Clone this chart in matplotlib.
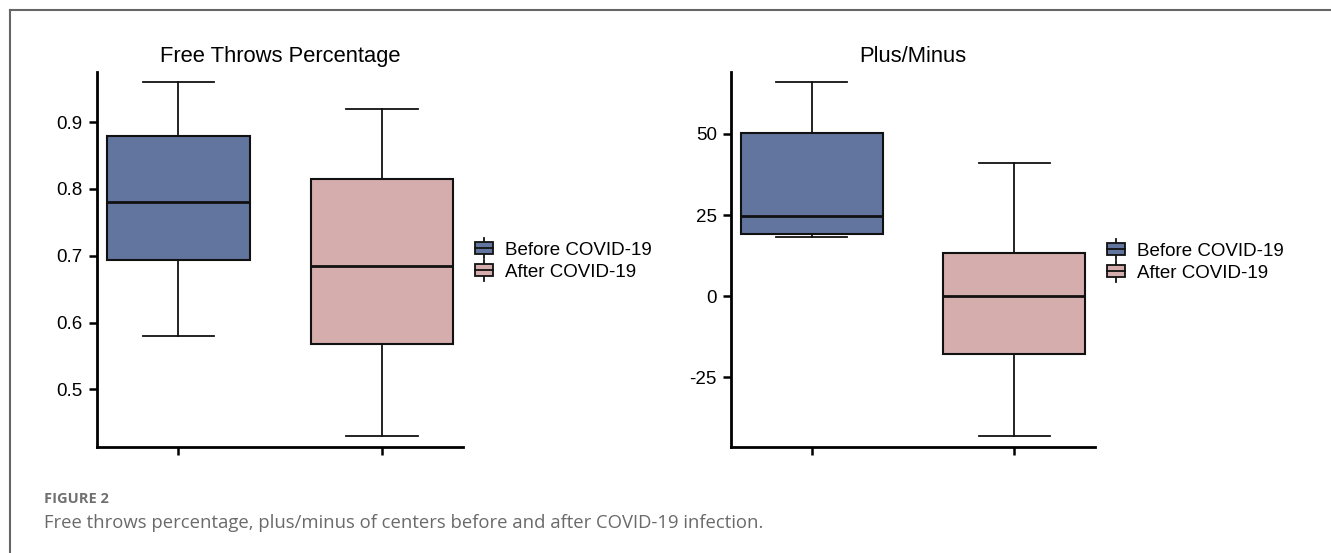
import matplotlib
matplotlib.use('Agg')
import matplotlib.pyplot as plt
from matplotlib.legend_handler import HandlerBase
from matplotlib.patches import Rectangle
from matplotlib.lines import Line2D

# ---------------- data ----------------
groups = ['Before COVID-19', 'After COVID-19']
colors = ['#62759F', '#D5ADAD']

ft_title = 'Free Throws Percentage'
ft_low = [0.58, 0.43]
ft_q1 = [0.693, 0.568]
ft_med = [0.78, 0.685]
ft_q3 = [0.88, 0.815]
ft_high = [0.96, 0.92]
ft_ticks = [0.5, 0.6, 0.7, 0.8, 0.9]
ft_tick_labels = ['0.5', '0.6', '0.7', '0.8', '0.9']

pm_title = 'Plus/Minus'
pm_low = [18.2, -43.0]
pm_q1 = [19.2, -17.7]
pm_med = [24.6, 0.0]
pm_q3 = [50.4, 13.2]
pm_high = [66.1, 41.0]
pm_ticks = [-25, 0, 25, 50]
pm_tick_labels = ['-25', '0', '25', '50']

fig_label = 'FIGURE 2'
caption = 'Free throws percentage, plus/minus of centers before and after COVID-19 infection.'

# ---------------- style ----------------
plt.rcParams['font.family'] = ['Liberation Sans', 'DejaVu Sans']
EDGE = '#111111'

fig = plt.figure(figsize=(13.31, 5.53), dpi=100)


class HandlerMiniBox(HandlerBase):
    def create_artists(self, legend, orig_handle, xdescent, ydescent,
                       width, height, fontsize, trans):
        fc = orig_handle.get_facecolor()
        bh = height * 0.9
        y0 = (height - bh) / 2 - ydescent
        x0 = -xdescent
        rect = Rectangle((x0, y0), width, bh, facecolor=fc,
                         edgecolor=EDGE, linewidth=1.3, transform=trans)
        med = Line2D([x0, x0 + width], [y0 + bh / 2] * 2, color=EDGE,
                     lw=1.3, transform=trans)
        cx = x0 + width / 2
        w1 = Line2D([cx, cx], [y0 + bh, y0 + bh + height * 0.3], color=EDGE,
                    lw=1.3, transform=trans)
        w2 = Line2D([cx, cx], [y0, y0 - height * 0.3], color=EDGE,
                    lw=1.3, transform=trans)
        return [w1, w2, rect, med]


def draw_panel(rect, title, low, q1, med, q3, high, ticks, tlabels, ylim,
               leg_anchor):
    ax = fig.add_axes(rect)
    stats = []
    for i, g in enumerate(groups):
        stats.append(dict(label=g, whislo=low[i], q1=q1[i], med=med[i],
                          q3=q3[i], whishi=high[i], fliers=[]))
    bp = ax.bxp(stats, positions=[0, 1], widths=0.7, patch_artist=True,
                showfliers=False,
                boxprops=dict(edgecolor=EDGE, linewidth=1.5),
                medianprops=dict(color=EDGE, linewidth=2.0),
                whiskerprops=dict(color=EDGE, linewidth=1.3),
                capprops=dict(color=EDGE, linewidth=1.3),
                capwidths=0.35)
    for patch, c in zip(bp['boxes'], colors):
        patch.set_facecolor(c)
    ax.set_xlim(-0.4, 1.4)
    ax.set_ylim(*ylim)
    ax.set_xticks([0, 1])
    ax.set_xticklabels(['', ''])
    ax.set_yticks(ticks)
    ax.set_yticklabels(tlabels)
    for s in ['top', 'right']:
        ax.spines[s].set_visible(False)
    for s in ['left', 'bottom']:
        ax.spines[s].set_linewidth(2.0)
        ax.spines[s].set_color('#000000')
    ax.tick_params(axis='both', direction='out', length=6, width=1.8,
                   labelsize=13.5, pad=4, colors='#000000')
    ax.set_title(title, fontsize=15.8, pad=7)
    handles = [Rectangle((0, 0), 1, 1, facecolor=c) for c in colors]
    ax.legend(handles, groups, loc='center left', bbox_to_anchor=leg_anchor,
              bbox_transform=fig.transFigure, frameon=False, fontsize=13.5,
              handler_map={Rectangle: HandlerMiniBox()},
              handlelength=0.95, handleheight=0.75, handletextpad=0.65,
              labelspacing=0.25, borderpad=0, borderaxespad=0)
    return ax


draw_panel([0.0727, 0.1917, 0.2755, 0.6786], ft_title, ft_low, ft_q1, ft_med,
           ft_q3, ft_high, ft_ticks, ft_tick_labels, (0.4137, 0.9756),
           (475 / 1331, 1 - 261 / 553))
draw_panel([0.549, 0.1917, 0.2739, 0.6786], pm_title, pm_low, pm_q1, pm_med,
           pm_q3, pm_high, pm_ticks, pm_tick_labels, (-46.5, 69.2),
           (1107 / 1331, 1 - 262 / 553))

# frame lines
fig.add_artist(Line2D([10 / 1331, 1.0], [1 - 10 / 553] * 2,
                      transform=fig.transFigure, color='#666666', lw=1.5))
fig.add_artist(Line2D([10 / 1331] * 2, [0, 1 - 10 / 553],
                      transform=fig.transFigure, color='#666666', lw=1.5))

# caption
fig.text(44 / 1331, 1 - 499 / 553, fig_label, fontsize=10.5, color='#707070',
         fontweight='bold', family=['Open Sans', 'DejaVu Sans'], va='center',
         ha='left')
fig.text(44 / 1331, 1 - 528 / 553, caption, fontsize=13.3, color='#6a6a6a',
         family=['Open Sans', 'DejaVu Sans'], va='baseline', ha='left')

fig.savefig('out.png', dpi=100)
